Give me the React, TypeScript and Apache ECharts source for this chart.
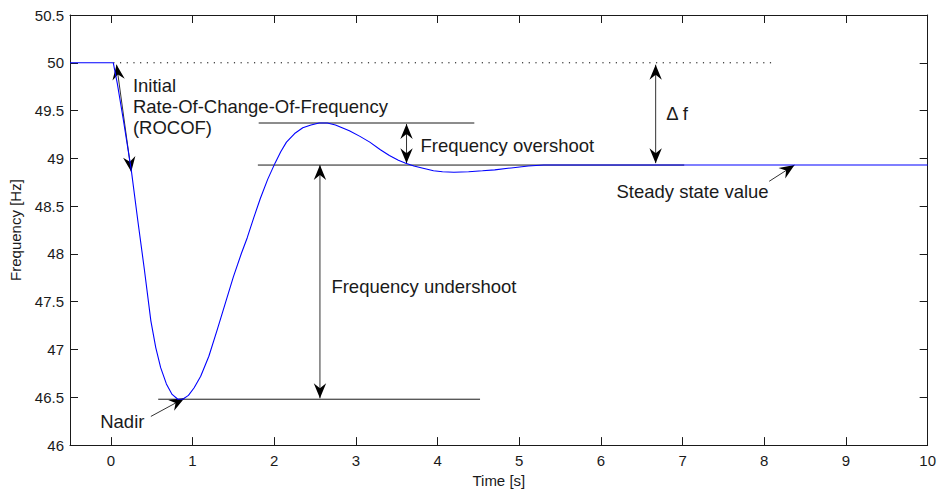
import React, { useEffect, useRef } from "react";
import * as echarts from "echarts";

// Frequency response after a generation loss
const timeSec = [-0.5, 0, 0.03, 0.08, 0.15, 0.25, 0.33, 0.41, 0.49, 0.55, 0.61, 0.68, 0.75, 0.82, 0.88, 0.95, 1.02, 1.1, 1.2, 1.3, 1.4, 1.5, 1.6, 1.67, 1.75, 1.83, 1.92, 2.01, 2.08, 2.15, 2.25, 2.35, 2.45, 2.55, 2.65, 2.75, 2.92, 3.05, 3.17, 3.3, 3.41, 3.52, 3.61, 3.71, 3.81, 3.95, 4.06, 4.2, 4.38, 4.55, 4.7, 4.9, 5.11, 5.3, 5.47, 10];
const freqHz = [50, 50, 50, 49.78, 49.42, 48.88, 48.35, 47.84, 47.3, 47.02, 46.81, 46.64, 46.53, 46.48, 46.48, 46.52, 46.6, 46.72, 46.93, 47.2, 47.48, 47.76, 48.01, 48.17, 48.38, 48.58, 48.78, 48.95, 49.07, 49.17, 49.26, 49.32, 49.35, 49.37, 49.37, 49.35, 49.29, 49.23, 49.17, 49.09, 49.03, 48.98, 48.95, 48.92, 48.9, 48.87, 48.86, 48.855, 48.86, 48.87, 48.88, 48.9, 48.92, 48.93, 48.93, 48.93];

// axes
const xMin = -0.5;
const xMax = 10;
const yMin = 46;
const yMax = 50.5;
const yStep = 0.5;

// annotations, in data coordinates [t, f]
const dottedRef = [[0.03, 50], [8.15, 50]];
const levelLines = [
  [[1.81, 49.37], [4.45, 49.37]],
  [[1.8, 48.93], [7.02, 48.93]],
  [[0.58, 46.48], [4.52, 46.48]],
];
const doubleArrows = [
  [[0.07, 49.98], [0.25, 48.86]],
  [[3.62, 49.36], [3.62, 48.95]],
  [[6.67, 49.98], [6.67, 48.95]],
  [[2.56, 48.93], [2.56, 46.49]],
];
const singleArrows = [
  [[0.49, 46.3], [0.9, 46.49]],
  [[8.06, 48.76], [8.37, 48.93]],
];
const labelTexts = ["Initial", "Rate-Of-Change-Of-Frequency", "(ROCOF)", "Frequency overshoot", "\u0394 f", "Steady state value", "Frequency undershoot", "Nadir"];
const labelPos = [[0.27, 49.76], [0.27, 49.54], [0.27, 49.32], [3.79, 49.13], [6.8, 49.47], [6.19, 48.65], [2.7, 47.66], [-0.13, 46.25]];

const FONT = '"Liberation Sans", Arial, Helvetica, sans-serif';
const INK = "#1a1a1a";

export default function App() {
  const ref = useRef<HTMLDivElement>(null);

  useEffect(() => {
    document.body.style.margin = "0";
    const chart = echarts.init(ref.current as HTMLDivElement, null, { renderer: "svg" });

    const xFmt = (v: number) => (Number.isInteger(v) ? String(Math.abs(v) < 1e-9 ? 0 : v) : "");
    const tick = { show: true, inside: true, length: 8, lineStyle: { color: INK, width: 1 } };
    const line = { show: true, onZero: false, lineStyle: { color: INK, width: 1 } };
    const lbl = { color: INK, fontSize: 15, fontFamily: FONT };

    chart.setOption({
      animation: false,
      backgroundColor: "#ffffff",
      grid: { left: 69, right: 7, top: 15, bottom: 43, containLabel: false },
      xAxis: [
        {
          type: "value", position: "bottom", min: xMin, max: xMax, splitNumber: 10,
          axisLine: line, axisTick: tick, splitLine: { show: false },
          axisLabel: { ...lbl, margin: 8, formatter: xFmt },
          name: "Time [s]", nameLocation: "middle", nameGap: 27,
          nameTextStyle: { color: INK, fontSize: 15, fontFamily: FONT },
        },
        {
          type: "value", position: "top", min: xMin, max: xMax, splitNumber: 10,
          axisLine: line, axisTick: tick, splitLine: { show: false },
          axisLabel: { show: false },
        },
      ],
      yAxis: [
        {
          type: "value", position: "left", min: yMin, max: yMax, interval: yStep,
          axisLine: line, axisTick: tick, splitLine: { show: false },
          axisLabel: { ...lbl, margin: 6 },
          name: "Frequency [Hz]", nameLocation: "middle", nameGap: 47,
          nameTextStyle: { color: INK, fontSize: 15, fontFamily: FONT },
        },
        {
          type: "value", position: "right", min: yMin, max: yMax, interval: yStep,
          axisLine: line, axisTick: tick, splitLine: { show: false },
          axisLabel: { show: false },
        },
      ],
      series: [
        {
          type: "line",
          xAxisIndex: 0,
          yAxisIndex: 0,
          data: timeSec.map((t, i) => [t, freqHz[i]]),
          showSymbol: false,
          symbol: "none",
          smooth: false,
          z: 10,
          lineStyle: { color: "#0000ff", width: 1.1 },
        },
      ],
    });

    const px = (p: number[]) => chart.convertToPixel({ seriesIndex: 0 }, p) as number[];
    const els: any[] = [];

    const seg = (a: number[], b: number[], extra: any = {}) => {
      const p = px(a);
      const q = px(b);
      els.push({
        type: "line", z: 5, silent: true,
        shape: { x1: p[0], y1: p[1], x2: q[0], y2: q[1] },
        style: { stroke: INK, lineWidth: 1, ...extra },
      });
    };
    const head = (from: number[], tip: number[]) => {
      const a = px(from);
      const b = px(tip);
      const dx = b[0] - a[0];
      const dy = b[1] - a[1];
      const len = Math.hypot(dx, dy) || 1;
      const ux = dx / len;
      const uy = dy / len;
      const nx = -uy;
      const ny = ux;
      const L = 15;
      const W = 6.2;
      const N = 10;
      els.push({
        type: "polygon", z: 6, silent: true,
        shape: {
          points: [
            [b[0], b[1]],
            [b[0] - L * ux + W * nx, b[1] - L * uy + W * ny],
            [b[0] - N * ux, b[1] - N * uy],
            [b[0] - L * ux - W * nx, b[1] - L * uy - W * ny],
          ],
        },
        style: { fill: "#000000" },
      });
    };

    seg(dottedRef[0], dottedRef[1], { stroke: "#000000", lineDash: [1.2, 5.5] });
    levelLines.forEach((l) => seg(l[0], l[1]));
    doubleArrows.forEach((l) => {
      seg(l[0], l[1], { stroke: "#333333" });
      head(l[0], l[1]);
      head(l[1], l[0]);
    });
    singleArrows.forEach((l) => {
      seg(l[0], l[1], { stroke: "#333333" });
      head(l[0], l[1]);
    });
    labelTexts.forEach((text, i) => {
      const p = px(labelPos[i]);
      els.push({
        type: "text", z: 7, silent: true,
        x: p[0], y: p[1],
        style: {
          text,
          fill: INK,
          font: `18.5px ${FONT}`,
          align: "left",
          verticalAlign: "middle",
          textAlign: "left",
          textVerticalAlign: "middle",
        },
      });
    });

    chart.setOption({ graphic: { elements: els } });

    return () => chart.dispose();
  }, []);

  return <div ref={ref} style={{ position: "absolute", left: 0, top: 0, width: 939, height: 493 }} />;
}
